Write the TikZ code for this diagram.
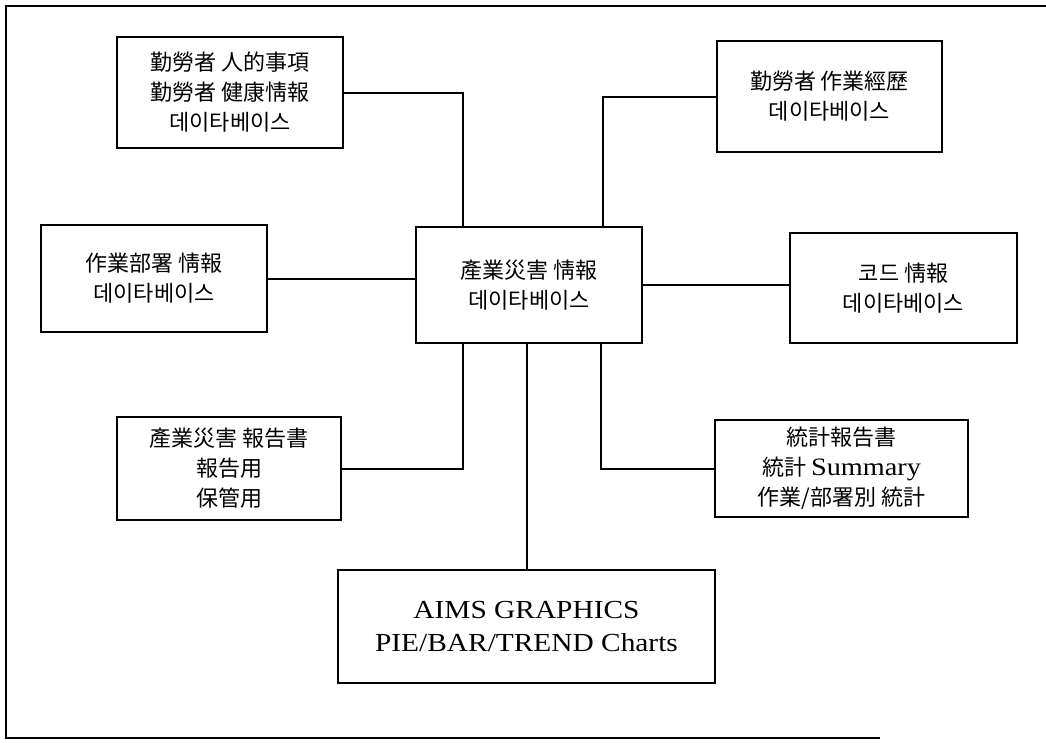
\documentclass[tikz,border=0pt]{standalone}
\usepackage{fontspec}
\setmainfont{Liberation Serif}
\newfontfamily\kr{Noto Sans CJK KR}
\newfontfamily\lat[FakeStretch=1.13]{Liberation Serif}
\tikzset{
  box/.style={draw, line width=2.2pt, align=center, inner sep=0pt,
    font=\kr\fontsize{22}{30}\selectfont},
  link/.style={line width=2pt},
}
\begin{document}
\begin{tikzpicture}[x=1pt,y=-1pt]
\useasboundingbox (0,0) rectangle (1046,742);
\fill[white] (0,0) rectangle (1046,742);
\draw[line width=2pt] (1046,6) -- (6,6) -- (6,738) -- (880,738);

\node[box, minimum width=226pt, minimum height=111pt] (b1) at (230,92.5)
  {勤勞者 人的事項\\勤勞者 健康情報\\데이타베이스};
\node[box, minimum width=225pt, minimum height=111pt] (b2) at (829.5,96.5)
  {勤勞者 作業經歷\\데이타베이스};
\node[box, minimum width=226pt, minimum height=107pt] (b3) at (154,278.5)
  {作業部署 情報\\데이타베이스};
\node[box, minimum width=226pt, minimum height=116pt] (c) at (529,285)
  {產業災害 情報\\데이타베이스};
\node[box, minimum width=227pt, minimum height=110pt] (b4) at (903.5,288)
  {코드 情報\\데이타베이스};
\node[box, minimum width=224pt, minimum height=103pt] (b5) at (229,468.5)
  {產業災害 報告書\\報告用\\保管用};
\node[box, minimum width=253pt, minimum height=97pt] (b6) at (841.5,468.5)
  {統計報告書\\統計 {\lat\fontsize{25}{30}\selectfont Summary}\\作業/部署別 統計};
\node[box, minimum width=377pt, minimum height=113pt,
  font=\lat\fontsize{26}{33}\selectfont] (b7) at (526.5,626.5)
  {AIMS GRAPHICS\\PIE/BAR/TREND Charts};

\draw[link] (b1.east) -| (c.north -| 463,0);
\draw[link] (b2.west) -| (c.north -| 603,0);
\draw[link] (b3.east) -- (b3.east -| c.west);
\draw[link] (c.east) -- (c.east -| b4.west);
\draw[link] (b5.east) -| (c.south -| 463,0);
\draw[link] (b6.west) -| (c.south -| 601,0);
\draw[link] (c.south -| 527,0) -- (b7.north -| 527,0);
\end{tikzpicture}
\end{document}
